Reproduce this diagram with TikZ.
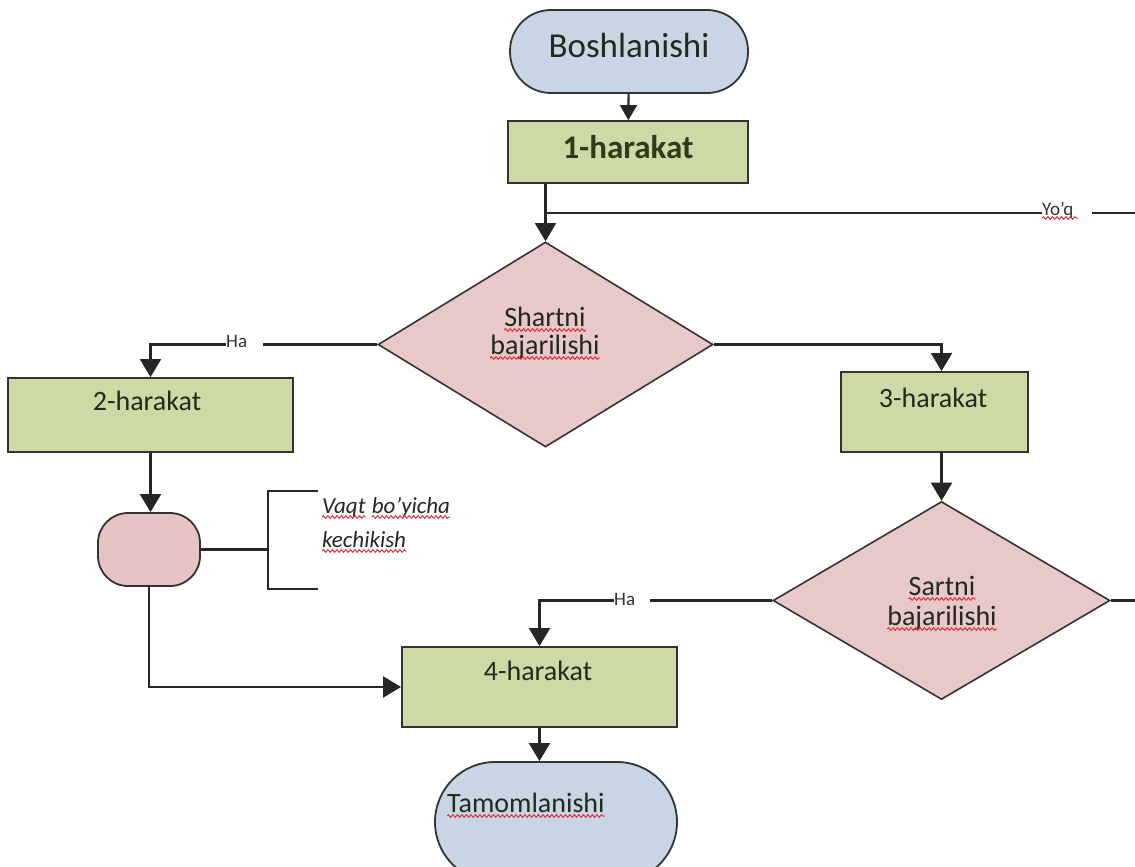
\documentclass[tikz,border=0pt]{standalone}
\usepackage{fontspec}
\setmainfont{Carlito}
\usetikzlibrary{arrows.meta,shapes.geometric,decorations.pathmorphing}
\definecolor{termblue}{HTML}{C7D5E5}
\definecolor{actgreen}{HTML}{CDDAA6}
\definecolor{decpink}{HTML}{E9C8C9}
\definecolor{pillpink}{HTML}{E7C3C6}
\definecolor{txtc}{HTML}{222A1C}
\definecolor{darkg}{HTML}{2E3B1C}
\definecolor{wavered}{HTML}{E0303A}
\begin{document}
\begin{tikzpicture}[x=1pt,y=-1pt,
  ln/.style={draw=black!85, line width=2.1pt},
  arr/.style={ln, -{Triangle[width=21pt,length=18pt]}},
  arrs/.style={ln, -{Triangle[width=17pt,length=15pt]}},
  term/.style={draw=black!80, line width=1.8pt, fill=termblue, inner sep=0pt},
  act/.style={draw=black!80, line width=1.8pt, fill=actgreen, inner sep=0pt},
  dec/.style={diamond, draw=black!80, line width=1.6pt, fill=decpink, inner sep=0pt},
  txt/.style={font=\fontsize{28}{30}\selectfont, text=txtc, inner sep=0pt},
  lab/.style={font=\fontsize{19}{20}\selectfont, fill=white, inner xsep=0pt, inner ysep=2pt, align=left, text=black!80},
  wave/.style={draw=wavered, line width=1pt, decorate, decoration={snake, amplitude=1.3pt, segment length=4.5pt}},
]
\useasboundingbox (0,0) rectangle (1135,867);
\clip (0,0) rectangle (1135,867);

% nodes
\node[term, rounded corners=41pt, minimum width=238pt, minimum height=83pt] (start) at (629,51.5) {};
\node[txt, anchor=base, font=\fontsize{35}{36}\selectfont] (tstart) at (629,58) {Boshlanishi};

\node[act, minimum width=240pt, minimum height=62pt] (b1) at (628,152) {};
\node[txt, anchor=base, font=\bfseries\fontsize{33}{36}\selectfont, text=darkg] (t1) at (628,158) {1-harakat};

\node[dec, minimum width=335pt, minimum height=205pt] (d1) at (545.5,344.5) {};
\node[txt, anchor=base] (td1a) at (545,326) {Shartni};
\node[txt, anchor=base] (td1b) at (545,354) {bajarilishi};

\node[act, minimum width=285pt, minimum height=74pt] (b2) at (150.5,415) {};
\node[txt, anchor=base] (t2) at (147,410) {2-harakat};

\node[act, minimum width=187pt, minimum height=80pt] (b3) at (934.5,412) {};
\node[txt, anchor=base] (t3) at (933,407) {3-harakat};

\node[dec, minimum width=337pt, minimum height=198pt] (d2) at (941.5,600.5) {};
\node[txt, anchor=base] (td2a) at (942,595) {Sartni};
\node[txt, anchor=base] (td2b) at (942,625) {bajarilishi};

\node[term, fill=pillpink, rounded corners=30pt, minimum width=102pt, minimum height=73pt] (pill) at (149,549.5) {};
\node[txt, anchor=base west, font=\itshape\fontsize{23}{26}\selectfont] (tv1a) at (322,513) {Vaqt};
\node[txt, anchor=base west, font=\itshape\fontsize{23}{26}\selectfont] (tv1b) at ([xshift=6pt]tv1a.base east) {bo’yicha};
\node[txt, anchor=base west, font=\itshape\fontsize{23}{26}\selectfont] (tv2) at (322,547) {kechikish};

\node[act, minimum width=275pt, minimum height=80pt] (b4) at (539.5,687) {};
\node[txt, anchor=base] (t4) at (538,680) {4-harakat};

\node[term, rounded corners=60pt, minimum width=242pt, minimum height=120pt] (tam) at (556,822) {};
\node[txt, anchor=base west] (ttam) at (447,812) {Tamomlanishi};

% coordinates
\coordinate (yend) at (1135,213);
\coordinate (brtop) at (318,491);
\coordinate (brbot) at (318,589);
\coordinate (brmid) at (268,549.5);

% connectors
\draw[arrs] (start) -- (b1);
\draw[arr] (b1.south -| d1.north) -- (d1.north);
\draw[ln] (d1.north |- yend) -- (yend);
\draw[arr] (d1.west) -| (b2.north);
\draw[arr] (d1.east) -| (b3.north -| d2.north);
\draw[arr] (b3.south -| d2.north) -- (d2.north);
\draw[arr] (b2.south) -- (b2.south |- pill.north);
\draw[ln] (pill.east) -- (brmid);
\draw[ln] (brtop) -| (brmid) |- (brbot);
\draw[arr] (pill.south) |- (b4.west);
\draw[arr] (d2.west) -| (b4.north);
\draw[arr] (b4.south) -- (b4.south |- tam.north);
\draw[ln] (d2.east) -- (d2.east -| yend);

% labels on lines
\node[lab, anchor=base west, text width=50pt] (lyoq) at (1042,215) {Yo’q};
\node[lab, anchor=base west, text width=37pt] (lha1) at (226,347) {Ha};
\node[lab, anchor=base west, text width=36pt] (lha2) at (614,605) {Ha};

% spell-check underlines
\foreach \n in {td1a,td1b,td2a,td2b,tv1a,tv1b,tv2,ttam}
  \draw[wave] ([yshift=-4pt]\n.base west) -- ([yshift=-4pt]\n.base east);
\draw[wave] ([yshift=-3pt]lyoq.base west) -- ++(36,0);
\end{tikzpicture}
\end{document}
